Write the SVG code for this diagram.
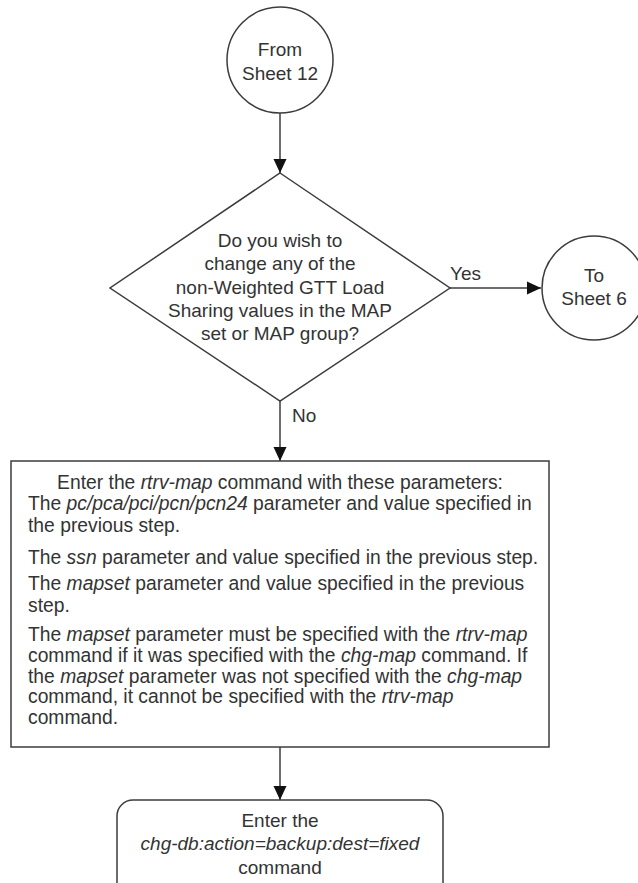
<svg xmlns="http://www.w3.org/2000/svg" width="638" height="883" viewBox="0 0 638 883">
<style>
.shape{fill:#ffffff;stroke:#3c3c3c;stroke-width:1.5}
.conn{fill:none;stroke:#3c3c3c;stroke-width:1.5}
text{font-family:"Liberation Sans",Arial,sans-serif;font-size:19px;fill:#333333}
.b{font-size:19.3px}
.c{text-anchor:middle}
.i{font-style:italic}
</style>
<defs>
<marker id="arr" viewBox="0 0 14 14" refX="14" refY="7" markerWidth="14" markerHeight="14" markerUnits="userSpaceOnUse" orient="auto">
<path d="M0,0.5 L14,7 L0,13.5 Z" fill="#111111"/>
</marker>
</defs>
<rect width="638" height="883" fill="#ffffff"/>
<g id="connectors">
<line class="conn" x1="280" y1="113" x2="280" y2="173" marker-end="url(#arr)"/>
<line class="conn" x1="450" y1="288" x2="541" y2="288" marker-end="url(#arr)"/>
<line class="conn" x1="280" y1="401" x2="280" y2="461" marker-end="url(#arr)"/>
<line class="conn" x1="280" y1="747" x2="280" y2="800" marker-end="url(#arr)"/>
<text x="450" y="280">Yes</text>
<text x="292" y="422">No</text>
</g>
<g id="from-sheet-12">
<circle class="shape" cx="280" cy="60" r="53"/>
<text class="c" x="280" y="56">From</text>
<text class="c" x="280" y="80">Sheet 12</text>
</g>
<g id="decision">
<polygon class="shape" points="280,173 450,288 280,401 110,288"/>
<text class="c" x="280" y="247">Do you wish to</text>
<text class="c" x="280" y="270">change any of the</text>
<text class="c" x="280" y="294">non-Weighted GTT Load</text>
<text class="c" x="280" y="317">Sharing values in the MAP</text>
<text class="c" x="280" y="340">set or MAP group?</text>
</g>
<g id="to-sheet-6">
<circle class="shape" cx="594" cy="288" r="52"/>
<text class="c" x="594" y="282">To</text>
<text class="c" x="594" y="305">Sheet 6</text>
</g>
<g id="rtrv-map">
<rect class="shape" x="11" y="461" width="538" height="286"/>
<text class="c b" x="280" y="489">Enter the <tspan class="i">rtrv-map</tspan> command with these parameters:</text>
<text class="b" x="28" y="510">The <tspan class="i">pc/pca/pci/pcn/pcn24</tspan> parameter and value specified in</text>
<text class="b" x="28" y="532">the previous step.</text>
<text class="b" x="28" y="564">The <tspan class="i">ssn</tspan> parameter and value specified in the previous step.</text>
<text class="b" x="28" y="590">The <tspan class="i">mapset</tspan> parameter and value specified in the previous</text>
<text class="b" x="28" y="612">step.</text>
<text class="b" x="28" y="641">The <tspan class="i">mapset</tspan> parameter must be specified with the <tspan class="i">rtrv-map</tspan></text>
<text class="b" x="28" y="662">command if it was specified with the <tspan class="i">chg-map</tspan> command. If</text>
<text class="b" x="28" y="683">the <tspan class="i">mapset</tspan> parameter was not specified with the <tspan class="i">chg-map</tspan></text>
<text class="b" x="28" y="703">command, it cannot be specified with the <tspan class="i">rtrv-map</tspan></text>
<text class="b" x="28" y="724">command.</text>
</g>
<g id="chg-db">
<rect class="shape" x="117" y="800" width="326" height="100" rx="16" ry="16"/>
<text class="c" x="280" y="827">Enter the</text>
<text class="c i" x="280" y="850">chg-db:action=backup:dest=fixed</text>
<text class="c" x="280" y="874">command</text>
</g>
</svg>
